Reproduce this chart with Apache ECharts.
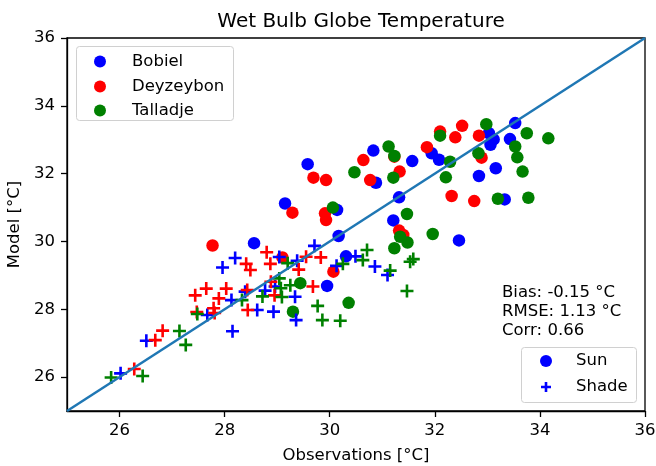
<!DOCTYPE html>
<html>
<head>
<meta charset="utf-8">
<script src="https://cdn.jsdelivr.net/npm/echarts@6/dist/echarts.min.js"></script>
<style>html,body{margin:0;padding:0;background:#fff;}#c{width:656px;height:466px;}</style>
</head>
<body>
<div id="c"></div>
<script>
var titleText = 'Wet Bulb Globe Temperature';
var xName = 'Observations [°C]';
var yName = 'Model [°C]';
var xTicks = [26, 28, 30, 32, 34, 36];
var yTicks = [26, 28, 30, 32, 34, 36];
var stations = ['Bobiel', 'Deyzeybon', 'Talladje'];
var conditions = ['Sun', 'Shade'];
var statsLines = ['Bias: -0.15 °C', 'RMSE: 1.13 °C', 'Corr: 0.66'];
var identityLine = [[25, 25], [36, 36]];

var bobielSun = [[28.56,29.95],[29.15,31.12],[29.58,32.28],[30.14,30.93],[30.17,30.16],[30.31,29.56],[29.95,28.69],[30.83,32.68],[30.88,31.73],[31.32,31.30],[31.21,30.62],[31.57,32.37],[31.94,32.60],[32.08,32.41],[32.46,30.03],[32.84,31.93],[33.03,33.19],[33.12,33.01],[33.06,32.85],[33.43,33.02],[33.53,33.49],[33.16,32.16],[33.33,31.24]];
var deyzeybonSun = [[27.77,29.88],[29.10,29.53],[29.29,30.85],[29.69,31.88],[29.93,31.81],[29.91,30.83],[29.93,30.63],[30.07,29.11],[30.64,32.40],[30.77,31.81],[31.23,32.50],[31.33,32.06],[31.32,30.32],[31.40,30.19],[31.85,32.78],[32.10,33.24],[32.52,33.41],[32.39,33.07],[32.84,33.12],[32.89,32.47],[32.32,31.34],[32.75,31.19]];
var talladjeSun = [[29.30,27.93],[29.44,28.77],[30.36,28.19],[30.06,31.00],[30.47,32.04],[31.12,32.80],[31.23,32.52],[31.21,31.88],[31.47,30.81],[31.34,30.14],[31.48,29.97],[31.23,29.80],[31.96,30.22],[32.21,31.89],[32.29,32.35],[32.10,33.12],[32.98,33.46],[32.83,32.60],[33.20,31.26],[33.75,33.19],[34.16,33.04],[33.53,32.80],[33.57,32.48],[33.67,32.06],[33.78,31.29]];
var bobielShade = [[26.02,26.11],[26.51,27.07],[27.67,27.83],[27.96,29.23],[28.20,29.51],[28.13,28.27],[28.15,27.35],[28.39,28.52],[28.62,27.98],[28.77,28.55],[28.96,28.67],[28.93,27.93],[29.04,29.54],[29.38,29.43],[29.34,28.37],[29.36,27.68],[29.71,29.87],[30.13,29.28],[30.49,29.56],[30.86,29.26],[31.10,29.01]];
var deyzeybonShade = [[26.28,26.24],[26.68,27.09],[26.82,27.37],[27.44,28.41],[27.65,28.61],[27.89,28.32],[28.03,28.61],[27.79,28.03],[27.81,27.89],[27.47,27.92],[28.44,27.98],[28.41,29.34],[28.49,29.16],[28.80,29.68],[28.87,29.34],[28.88,28.81],[28.95,28.41],[28.43,28.57],[29.41,29.17],[29.55,29.55],[29.83,29.53],[29.68,28.67]];
var talladjeShade = [[25.84,25.99],[26.44,26.03],[27.14,27.36],[27.26,26.95],[27.48,27.86],[28.33,28.27],[28.72,28.38],[29.04,28.91],[29.07,28.62],[29.25,28.71],[29.09,28.36],[29.20,29.36],[30.25,29.34],[30.63,29.45],[30.71,29.75],[29.77,28.10],[29.86,27.68],[30.20,27.66],[31.15,29.14],[31.59,29.48],[31.53,29.40],[31.47,28.54]];

var colors = ['#0000ff', '#ff0000', '#008000'];
var plusPath = 'path://M4,0H6V4H10V6H6V10H4V6H0V4H4Z';
var font = 'DejaVu Sans';
var fs = 16.5;

var chart = echarts.init(document.getElementById('c'), null, {renderer: 'canvas'});

function sc(name, data, color, isPlus) {
  return {
    name: name, type: 'scatter', data: data,
    symbol: isPlus ? plusPath : 'circle',
    symbolSize: isPlus ? 13 : 12.5,
    itemStyle: {color: color, opacity: 1},
    emphasis: {disabled: true},
    animation: false
  };
}

function axisCommon(name, ticks, isX) {
  return {
    type: 'value', min: 25, max: 36, interval: 1,
    name: name, nameLocation: 'middle', nameGap: isX ? 36 : 38,
    nameTextStyle: {fontFamily: font, fontSize: fs, color: '#000'},
    axisLine: {show: true, onZero: false, lineStyle: {color: '#000', width: 1.3}},
    axisTick: {show: true, inside: false, length: 6, customValues: ticks, lineStyle: {color: '#000', width: 1.3}},
    axisLabel: {show: true, customValues: ticks, fontFamily: font, fontSize: fs, color: '#000', margin: isX ? 11 : 12},
    splitLine: {show: false}
  };
}

function plusPoints(cx, cy, s, t) {
  var h = s / 2, w = t / 2;
  return [[cx - w, cy - h], [cx + w, cy - h], [cx + w, cy - w], [cx + h, cy - w], [cx + h, cy + w], [cx + w, cy + w],
    [cx + w, cy + h], [cx - w, cy + h], [cx - w, cy + w], [cx - h, cy + w], [cx - h, cy - w], [cx - w, cy - w]];
}

var tfont = fs + 'px "DejaVu Sans"';
var legendGraphics = [];
legendGraphics.push({type: 'rect', shape: {x: 76.5, y: 46.5, width: 157, height: 74, r: 3},
  style: {fill: 'rgba(255,255,255,0.8)', stroke: '#d0d0d0', lineWidth: 1}, z: 100});
var ly = [61.5, 86.5, 110.5];
stations.forEach(function (s, i) {
  legendGraphics.push({type: 'circle', shape: {cx: 100, cy: ly[i], r: 6}, style: {fill: colors[i]}, z: 101});
  legendGraphics.push({type: 'text', x: 132, y: ly[i], style: {text: s, fill: '#000', font: tfont, verticalAlign: 'middle', align: 'left'}, z: 101});
});
legendGraphics.push({type: 'rect', shape: {x: 521.5, y: 347.5, width: 115, height: 55, r: 3},
  style: {fill: 'rgba(255,255,255,0.8)', stroke: '#d0d0d0', lineWidth: 1}, z: 100});
legendGraphics.push({type: 'circle', shape: {cx: 546, cy: 361, r: 6}, style: {fill: colors[0]}, z: 101});
legendGraphics.push({type: 'polygon', shape: {points: plusPoints(546, 387, 10, 2.6)}, style: {fill: colors[0]}, z: 101});
var cy2 = [361, 387];
conditions.forEach(function (s, i) {
  legendGraphics.push({type: 'text', x: 576, y: cy2[i], style: {text: s, fill: '#000', font: tfont, verticalAlign: 'middle', align: 'left'}, z: 101});
});
var sy = [292.5, 311.5, 330.5];
statsLines.forEach(function (t, i) {
  legendGraphics.push({type: 'text', x: 502, y: sy[i], style: {text: t, fill: '#000', font: tfont, verticalAlign: 'middle', align: 'left'}, z: 101});
});

var option = {
  backgroundColor: '#fff',
  animation: false,
  title: {text: titleText, left: 356, top: 7, textAlign: 'center',
    textStyle: {fontFamily: font, fontSize: 20, fontWeight: 'normal', color: '#000'}},
  grid: {left: 67, top: 38, width: 578, height: 373, show: true, borderColor: '#000', borderWidth: 1.3, backgroundColor: 'transparent', outerBoundsMode: 'none', containLabel: false},
  xAxis: axisCommon(xName, xTicks, true),
  yAxis: axisCommon(yName, yTicks, false),
  graphic: legendGraphics,
  series: [
    sc(stations[0] + ' ' + conditions[0], bobielSun, colors[0], false),
    sc(stations[1] + ' ' + conditions[0], deyzeybonSun, colors[1], false),
    sc(stations[2] + ' ' + conditions[0], talladjeSun, colors[2], false),
    sc(stations[0] + ' ' + conditions[1], bobielShade, colors[0], true),
    sc(stations[1] + ' ' + conditions[1], deyzeybonShade, colors[1], true),
    sc(stations[2] + ' ' + conditions[1], talladjeShade, colors[2], true),
    {type: 'line', data: identityLine, symbol: 'none', lineStyle: {color: '#1f77b4', width: 2.5}, z: 3, clip: true, silent: true}
  ]
};
chart.setOption(option);
</script>
</body>
</html>
